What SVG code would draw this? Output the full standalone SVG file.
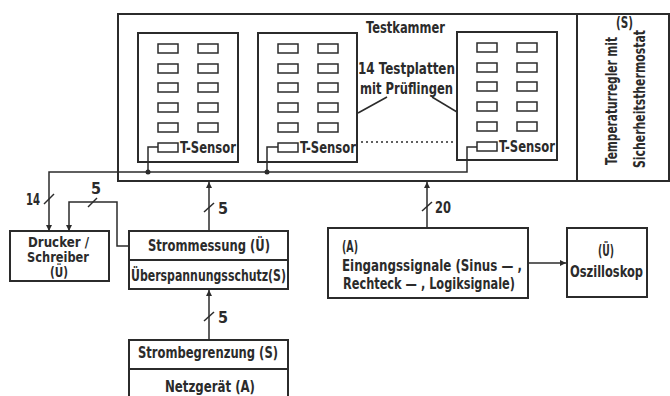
<svg xmlns="http://www.w3.org/2000/svg" width="670" height="396" viewBox="0 0 670 396">
<defs>
<style>
.ln{fill:none;stroke:#2b2b2b;stroke-width:2}
.th{fill:none;stroke:#2b2b2b;stroke-width:1.5}
.bx{fill:#fff;stroke:#2b2b2b;stroke-width:2}
.sq{fill:#fff;stroke:#2b2b2b;stroke-width:1.5}
.dot{fill:#2b2b2b}
text{font-family:"DejaVu Sans Condensed","Liberation Sans Narrow","Liberation Sans",sans-serif;font-weight:bold;fill:#2b2b2b;font-size:16px}
.m{text-anchor:middle}
.s14{font-size:15px}
.s13{font-size:14px}
</style>
<marker id="ah" viewBox="0 0 10 10" refX="10" refY="5" markerWidth="8" markerHeight="6" markerUnits="userSpaceOnUse" orient="auto">
<path d="M0,0 L10,5 L0,10 Z" fill="#2b2b2b"/>
</marker>
<g id="cell"><rect class="sq" x="0" y="0" width="20" height="9"/></g>
<g id="plate">
<use href="#cell" x="20" y="11"/><use href="#cell" x="60" y="11"/>
<use href="#cell" x="20" y="31"/><use href="#cell" x="60" y="31"/>
<use href="#cell" x="20" y="50"/><use href="#cell" x="60" y="50"/>
<use href="#cell" x="20" y="70"/><use href="#cell" x="60" y="70"/>
<use href="#cell" x="20" y="90"/><use href="#cell" x="60" y="90"/>
<use href="#cell" x="20" y="110"/>
</g>
</defs>
<rect width="670" height="396" fill="#fff"/>

<g id="testkammer">
<rect class="bx" x="118" y="14" width="551" height="167"/>
<line class="ln" x1="577" y1="14" x2="577" y2="181"/>
<text class="m s14" x="405.5" y="33" textLength="79" lengthAdjust="spacingAndGlyphs">Testkammer</text>
</g>

<g id="plate1">
<rect class="bx" x="138" y="33" width="100" height="129"/>
<use href="#plate" x="138" y="33"/>
<text class="s14" x="180" y="153" textLength="56" lengthAdjust="spacingAndGlyphs">T-Sensor</text>
</g>
<g id="plate2">
<rect class="bx" x="258" y="33" width="99" height="129"/>
<use href="#plate" x="258" y="33"/>
<text class="s14" x="300" y="153" textLength="56" lengthAdjust="spacingAndGlyphs">T-Sensor</text>
</g>
<g id="plate3">
<rect class="bx" x="457" y="32" width="100" height="128"/>
<use href="#plate" x="457" y="32"/>
<text class="s14" x="499" y="152" textLength="56" lengthAdjust="spacingAndGlyphs">T-Sensor</text>
</g>

<g id="testplatten-label">
<text class="m s14" x="406.5" y="74" textLength="97" lengthAdjust="spacingAndGlyphs">14 Testplatten</text>
<text class="m s14" x="406.5" y="94" textLength="93" lengthAdjust="spacingAndGlyphs">mit Prüflingen</text>
</g>

<g id="temperaturregler">
<text class="m" x="624.5" y="28" textLength="17" lengthAdjust="spacingAndGlyphs">(S)</text>
<text class="m s14" transform="translate(617,101) rotate(-90)" textLength="128" lengthAdjust="spacingAndGlyphs">Temperaturregler mit</text>
<text class="m s14" transform="translate(645,99) rotate(-90)" textLength="138" lengthAdjust="spacingAndGlyphs">Sicherheitsthermostat</text>
</g>

<g id="drucker">
<rect class="bx" x="10" y="231" width="99" height="50"/>
<text class="m s13" x="58.5" y="247" textLength="61" lengthAdjust="spacingAndGlyphs">Drucker /</text>
<text class="m s13" x="58" y="262" textLength="62" lengthAdjust="spacingAndGlyphs">Schreiber</text>
<text class="m s13" x="59" y="277" textLength="18" lengthAdjust="spacingAndGlyphs">(Ü)</text>
</g>

<g id="strommessung">
<rect class="bx" x="129" y="231" width="159" height="58"/>
<line class="ln" x1="129" y1="260" x2="288" y2="260"/>
<text class="m" x="209" y="251" textLength="122" lengthAdjust="spacingAndGlyphs">Strommessung  (Ü)</text>
<text class="m" x="208.5" y="281" textLength="155" lengthAdjust="spacingAndGlyphs">Überspannungsschutz(S)</text>
</g>

<g id="netzgeraet">
<rect class="bx" x="129" y="340" width="159" height="70"/>
<line class="ln" x1="129" y1="369" x2="288" y2="369"/>
<text class="m" x="208" y="358" textLength="140" lengthAdjust="spacingAndGlyphs">Strombegrenzung  (S)</text>
<text class="m" x="210" y="392" textLength="90" lengthAdjust="spacingAndGlyphs">Netzgerät  (A)</text>
</g>

<g id="eingangssignale">
<rect class="bx" x="328" y="228" width="200" height="70"/>
<text x="342" y="252" textLength="16" lengthAdjust="spacingAndGlyphs">(A)</text>
<text x="342" y="271" textLength="180" lengthAdjust="spacingAndGlyphs">Eingangssignale  (Sinus — ,</text>
<text x="343" y="289" textLength="172" lengthAdjust="spacingAndGlyphs">Rechteck — , Logiksignale)</text>
</g>

<g id="oszilloskop">
<rect class="bx" x="567" y="228" width="80" height="69"/>
<text class="m" x="606" y="256" textLength="16" lengthAdjust="spacingAndGlyphs">(Ü)</text>
<text class="m" x="606.5" y="277" textLength="73" lengthAdjust="spacingAndGlyphs">Oszilloskop</text>
</g>

<g id="connectors">
<polyline class="th" points="158,147 148,147 148,172"/>
<polyline class="th" points="278,147 267,147 267,172"/>
<polyline class="th" points="477,147 467,147 467,172 49,172 49,231" marker-end="url(#ah)"/>
<circle class="dot" cx="148" cy="172" r="2.5"/>
<circle class="dot" cx="267" cy="172" r="2.5"/>
<line x1="361" y1="142" x2="455" y2="142" stroke="#2b2b2b" stroke-width="1.5" stroke-dasharray="2,3"/>
<line class="th" x1="387" y1="97" x2="358" y2="113"/>
<line class="th" x1="432" y1="97" x2="457" y2="112"/>
<polyline class="th" points="129,246 117,246 117,202 69,202 69,231" marker-end="url(#ah)"/>
<line class="th" x1="209" y1="231" x2="209" y2="182" marker-end="url(#ah)"/>
<line class="th" x1="209" y1="340" x2="209" y2="290" marker-end="url(#ah)"/>
<line class="th" x1="427" y1="228" x2="427" y2="182" marker-end="url(#ah)"/>
<line class="th" x1="528" y1="263" x2="566" y2="263" marker-end="url(#ah)"/>
<line class="th" x1="44" y1="204" x2="54" y2="194"/>
<line class="th" x1="88" y1="207" x2="97" y2="198"/>
<line class="th" x1="204" y1="212" x2="214" y2="203"/>
<line class="th" x1="204" y1="321" x2="214" y2="312"/>
<line class="th" x1="422" y1="211" x2="432" y2="202"/>
<text x="26" y="205" textLength="14" lengthAdjust="spacingAndGlyphs">14</text>
<text x="91" y="194">5</text>
<text x="218" y="214">5</text>
<text x="218" y="323">5</text>
<text x="435" y="213" textLength="16" lengthAdjust="spacingAndGlyphs">20</text>
</g>
</svg>
